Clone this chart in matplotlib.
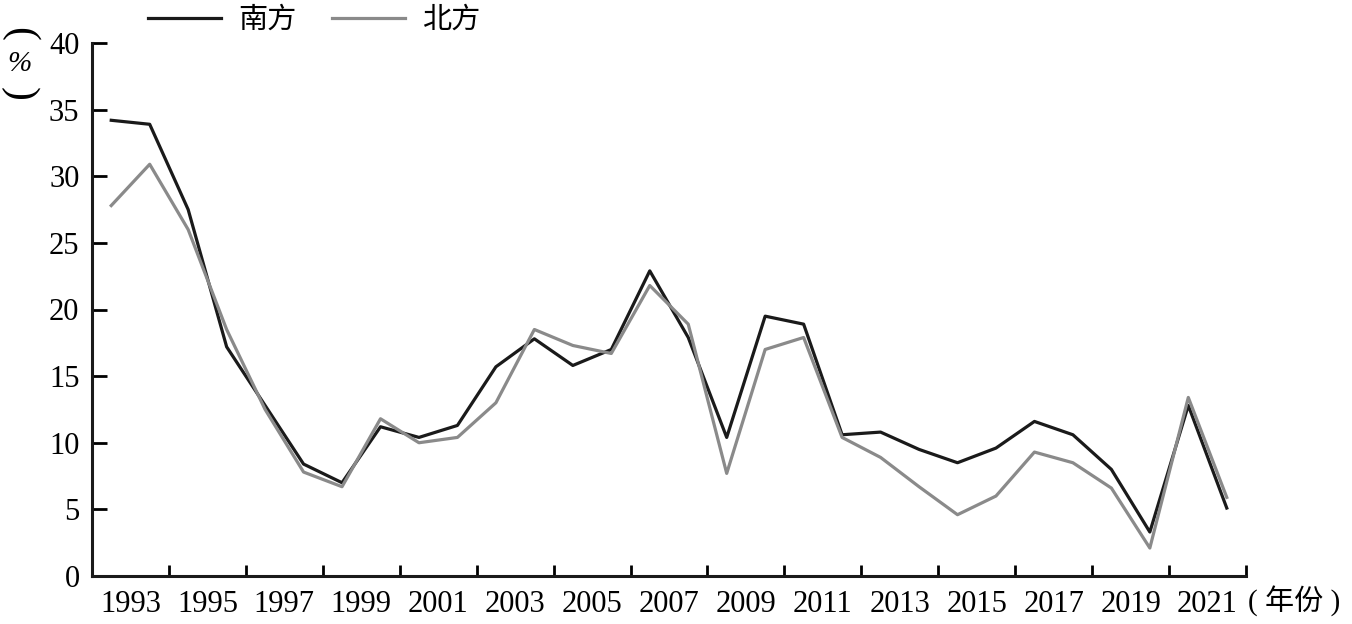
import numpy as np
import matplotlib
matplotlib.use("Agg")
import matplotlib.pyplot as plt

plt.rcParams['font.family'] = ['Liberation Serif', 'DejaVu Serif', 'Noto Sans CJK SC']

years = list(range(1993, 2023))
south = [34.2, 33.9, 27.5, 17.2, 12.8, 8.4, 7.0, 11.2, 10.4, 11.3,
         15.7, 17.8, 15.8, 17.0, 22.9, 17.9, 10.4, 19.5, 18.9, 10.6,
         10.8, 9.5, 8.5, 9.6, 11.6, 10.6, 8.0, 3.3, 12.8, 5.1]
north = [27.8, 30.9, 26.0, 18.5, 12.5, 7.8, 6.7, 11.8, 10.0, 10.4,
         13.0, 18.5, 17.3, 16.7, 21.8, 18.9, 7.7, 17.0, 17.9, 10.4,
         8.9, 6.7, 4.6, 6.0, 9.3, 8.5, 6.6, 2.1, 13.4, 5.9]
tick_labels = [str(y) for y in range(1993, 2022, 2)]
names = ['南方', '北方']

fig = plt.figure(figsize=(13.52, 6.24), dpi=100)
ax = fig.add_axes([92/1352, 48/624, (1246-92)/1352, (576-43)/624])

x = np.arange(len(years))
ax.plot(x, south, color='#1a1a1a', lw=2.3, label=names[0])
ax.plot(x, north, color='#8a8a8a', lw=2.3, label=names[1])

ax.set_xlim(-0.5, len(years) - 0.5)
ax.set_ylim(0, 40)
ax.set_yticks(range(0, 41, 5))
ax.set_xticks(np.arange(-0.5, len(years), 2))
ax.set_xticklabels([])
ax.set_xticks(np.arange(0.5, len(years), 2), minor=True)
ax.set_xticklabels(tick_labels, minor=True)
ax.tick_params(axis='x', which='minor', length=0, labelsize=22, pad=10)
ax.tick_params(axis='x', which='major', direction='in', length=8, width=2)
ax.tick_params(axis='y', direction='in', length=11, width=2, labelsize=22, pad=9)

for s in ['top', 'right']:
    ax.spines[s].set_visible(False)
for s in ['left', 'bottom']:
    ax.spines[s].set_linewidth(2.2)
    ax.spines[s].set_color('#1a1a1a')

# vertical "(%)" unit label
serif = ['Liberation Serif', 'DejaVu Serif']
fig.text(19/1352, 1 - 34/624, '(', rotation=-90, ha='center', va='center', fontsize=30,
         family=serif)
fig.text(19/1352, 1 - 64/624, '%', ha='center', va='center', fontsize=21,
         family=serif, style='italic')
fig.text(19/1352, 1 - 94/624, ')', rotation=-90, ha='center', va='center', fontsize=30,
         family=serif)
fig.text(1248/1352, 1 - 601/624, '( 年份 )', ha='left', va='center', fontsize=21,
         family=['Liberation Serif', 'Noto Sans CJK SC'])

fig.legend(loc='center left', bbox_to_anchor=(148/1352, 1 - 20/624), ncol=2,
           frameon=False, prop={'family': ['Noto Sans CJK SC'], 'size': 21},
           handlelength=2.5, handletextpad=0.6, columnspacing=1.2,
           borderaxespad=0, borderpad=0)

fig.savefig('out.png', dpi=100)
